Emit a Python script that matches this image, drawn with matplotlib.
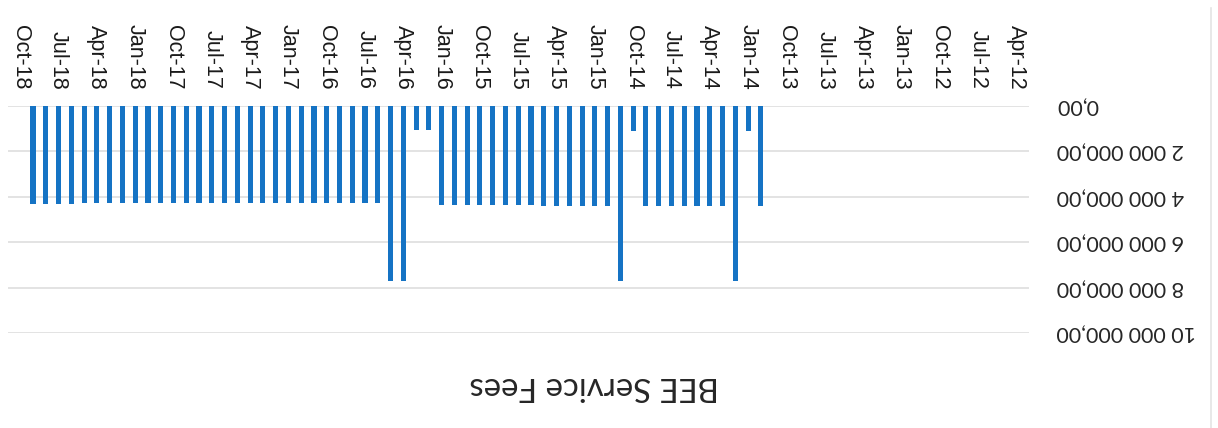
import matplotlib
matplotlib.use("Agg")
import matplotlib.pyplot as plt
from matplotlib.lines import Line2D

# Monthly BEE service fees (Dec 2013 - Sep 2018)
months = [
    "2013-12",
    "2014-01", "2014-02", "2014-03", "2014-04", "2014-05", "2014-06",
    "2014-07", "2014-08", "2014-09", "2014-10", "2014-11", "2014-12",
    "2015-01", "2015-02", "2015-03", "2015-04", "2015-05", "2015-06",
    "2015-07", "2015-08", "2015-09", "2015-10", "2015-11", "2015-12",
    "2016-01", "2016-02", "2016-03", "2016-04", "2016-05", "2016-06",
    "2016-07", "2016-08", "2016-09", "2016-10", "2016-11", "2016-12",
    "2017-01", "2017-02", "2017-03", "2017-04", "2017-05", "2017-06",
    "2017-07", "2017-08", "2017-09", "2017-10", "2017-11", "2017-12",
    "2018-01", "2018-02", "2018-03", "2018-04", "2018-05", "2018-06",
    "2018-07", "2018-08", "2018-09",
]
fees = [
    4420000,
    1120000, 7700000, 4420000, 4420000, 4420000, 4420000,
    4420000, 4420000, 4420000, 1120000, 7700000, 4420000,
    4420000, 4420000, 4420000, 4420000, 4420000, 4360000,
    4360000, 4360000, 4360000, 4360000, 4360000, 4360000,
    4360000, 1060000, 1060000, 7700000, 7700000, 4280000,
    4280000, 4280000, 4280000, 4280000, 4280000, 4280000,
    4280000, 4280000, 4280000, 4280000, 4280000, 4280000,
    4280000, 4280000, 4280000, 4280000, 4280000, 4280000,
    4280000, 4280000, 4280000, 4280000, 4280000, 4300000,
    4300000, 4300000, 4300000,
]

tick_months = [
    "2012-04", "2012-07", "2012-10", "2013-01", "2013-04", "2013-07",
    "2013-10", "2014-01", "2014-04", "2014-07", "2014-10", "2015-01",
    "2015-04", "2015-07", "2015-10", "2016-01", "2016-04", "2016-07",
    "2016-10", "2017-01", "2017-04", "2017-07", "2017-10", "2018-01",
    "2018-04", "2018-07", "2018-10",
]
tick_labels = [
    "Apr-12", "Jul-12", "Oct-12", "Jan-13", "Apr-13", "Jul-13",
    "Oct-13", "Jan-14", "Apr-14", "Jul-14", "Oct-14", "Jan-15",
    "Apr-15", "Jul-15", "Oct-15", "Jan-16", "Apr-16", "Jul-16",
    "Oct-16", "Jan-17", "Apr-17", "Jul-17", "Oct-17", "Jan-18",
    "Apr-18", "Jul-18", "Oct-18",
]
y_ticks = [0, 2000000, 4000000, 6000000, 8000000, 10000000]
y_tick_labels = ["0,00", "2 000 000,00", "4 000 000,00",
                 "6 000 000,00", "8 000 000,00", "10 000 000,00"]
title = "BEE Service Fees"
x_range = ("2018-11", "2012-03")


def month_number(s):
    y, m = s.split("-")
    return int(y) * 12 + int(m) - 1


W, H = 1218, 428
fig = plt.figure(figsize=(W / 100, H / 100), dpi=100)
fig.patch.set_facecolor("white")

left_px, right_px = 7.5, 1029
top_px, bottom_px = 106, 333
ax = fig.add_axes([left_px / W, 1 - bottom_px / H,
                   (right_px - left_px) / W, (bottom_px - top_px) / H])

xs = [month_number(m) for m in months]
ax.bar(xs, fees, width=0.4, color="#1573C4", zorder=3)

# whole chart is drawn turned upside down
ax.set_xlim(month_number(x_range[0]), month_number(x_range[1]))
ax.set_ylim(y_ticks[-1], y_ticks[0])

ax.set_yticks(y_ticks)
ax.set_yticklabels(y_tick_labels)
ax.yaxis.tick_right()
ax.tick_params(axis="y", length=0, pad=20)
for lab in ax.get_yticklabels():
    lab.set_rotation(180)
    lab.set_ha("left")
    lab.set_va("center")
    lab.set_fontfamily("Lato")
    lab.set_fontsize(15.5)
    lab.set_color("#262626")

ax.set_xticks([month_number(m) for m in tick_months])
ax.set_xticklabels(tick_labels)
ax.xaxis.tick_top()
ax.tick_params(axis="x", length=0, pad=12)
for lab in ax.get_xticklabels():
    lab.set_rotation(-90)
    lab.set_ha("center")
    lab.set_va("bottom")
    lab.set_fontfamily("Liberation Sans")
    lab.set_fontsize(15.5)
    lab.set_color("#1a1a1a")

ax.yaxis.grid(True, color="#DEDEDE", linewidth=1.2, zorder=0)
ax.xaxis.grid(False)
for sp in ax.spines.values():
    sp.set_visible(False)

fig.text(594 / W, 1 - 386 / H, title, rotation=180, ha="center", va="center",
         fontfamily="Lato", fontsize=23.8, color="#262626")

# chart-area border on the right edge
fig.add_artist(Line2D([1211 / W, 1211 / W], [0, 1 - 8 / H],
                      transform=fig.transFigure, color="#E4E4E4", linewidth=1.2))

fig.savefig("out.png", dpi=100, facecolor="white")
